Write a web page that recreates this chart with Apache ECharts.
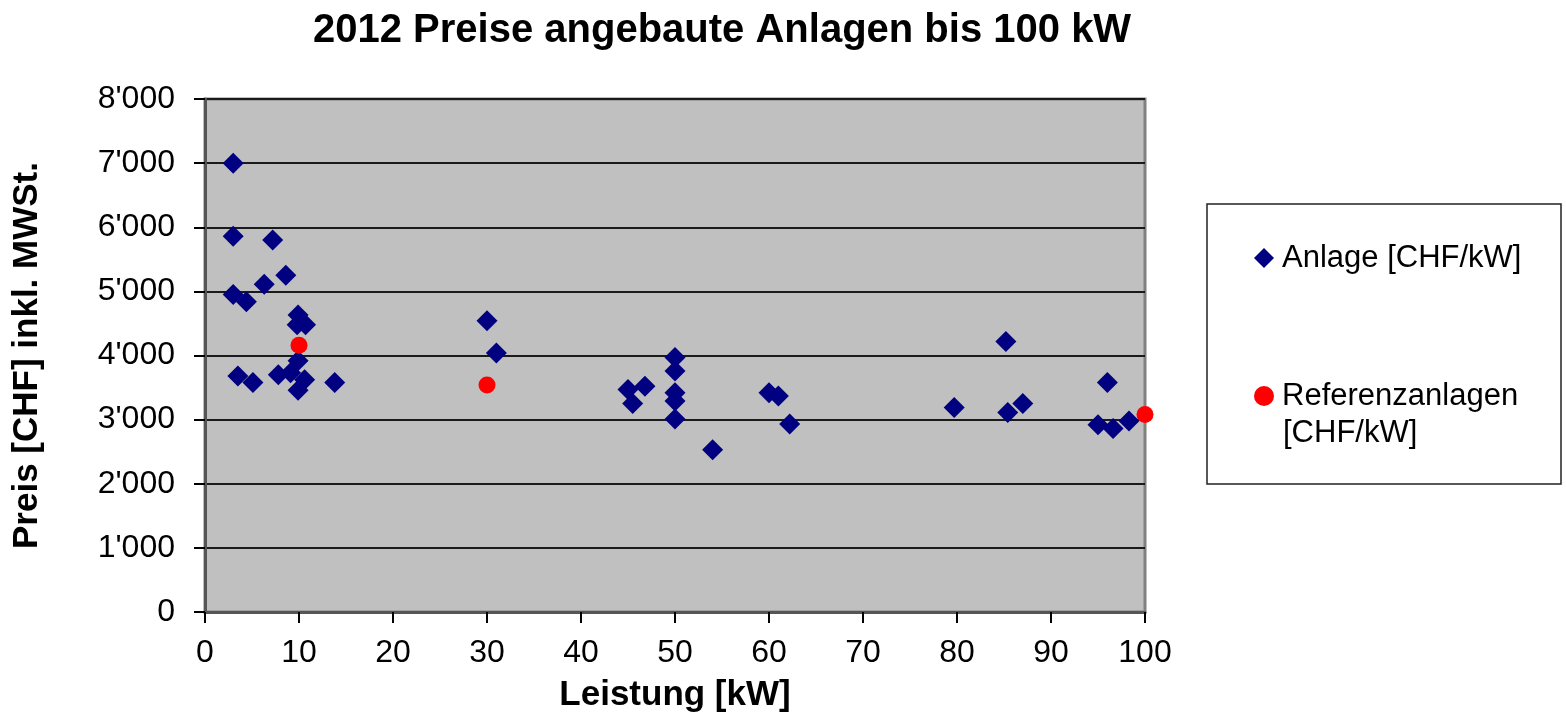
<!DOCTYPE html>
<html lang="de">
<head>
    <meta charset="UTF-8">
    <title>2012 Preise angebaute Anlagen bis 100 kW</title>
    <script src="https://cdn.jsdelivr.net/npm/echarts@6/dist/echarts.min.js"></script>
    <style>
        html, body {margin:0; padding:0; background:#ffffff;}
        #chart {width:1566px; height:718px;}
    </style>
</head>
<body>
<div id="chart"></div>
<script>
    // Daten: Leistung [kW] und Preis [CHF/kW]
    let anlageKw = [3, 3, 7.2, 8.6, 6.3, 3, 4.4, 9.9, 9.8, 10.7, 9.9, 7.8, 9.1, 10.6, 9.9, 13.8, 3.5, 5.1,
        30, 31, 45, 46.8, 45.5, 50, 50, 50, 50, 50, 54, 60, 61, 62.2, 79.7, 85.2, 85.4, 87, 96, 95, 96.6, 98.3];
    let anlagePreis = [7000, 5860, 5800, 5250, 5110, 4950, 4840, 4630, 4480, 4480, 3920, 3700, 3730, 3620, 3460, 3580, 3680, 3580,
        4540, 4040, 3470, 3520, 3250, 3970, 3760, 3420, 3290, 3010, 2530, 3420, 3370, 2930, 3190, 4220, 3110, 3250, 3580, 2920, 2860, 2980];
    let referenzKw = [10, 30, 100];
    let referenzPreis = [4160, 3540, 3080];

    let fontName = "'Liberation Sans', Arial, sans-serif";

    function pairs(xs, ys) {
        return xs.map(function (x, i) { return [x, ys[i]]; });
    }

    let chart = echarts.init(document.getElementById('chart'));
    let option = {
        animation: false,
        backgroundColor: '#ffffff',
        textStyle: {fontFamily: fontName},
        title: {
            text: '2012 Preise angebaute Anlagen bis 100 kW',
            left: 308,
            top: 6,
            textStyle: {fontSize: 40, fontWeight: 'bold', color: '#000', fontFamily: fontName}
        },
        grid: {
            left: 205, right: 421, top: 99, bottom: 105,
            show: true,
            backgroundColor: '#c0c0c0',
            borderColor: '#808080',
            borderWidth: 3
        },
        legend: [{
            data: ['Anlage [CHF/kW]'],
            orient: 'vertical',
            left: 1254, top: 240, padding: 0,
            itemWidth: 20, itemHeight: 20,
            textStyle: {fontSize: 31, color: '#000', lineHeight: 36, padding: [0, 0, 0, 3], fontFamily: fontName}
        }, {
            data: ['Referenzanlagen [CHF/kW]'],
            orient: 'vertical',
            left: 1254, top: 378, padding: 0,
            itemWidth: 20, itemHeight: 20,
            formatter: function () { return 'Referenzanlagen'; },
            textStyle: {fontSize: 31, color: '#000', lineHeight: 36, padding: [0, 0, 0, 3], fontFamily: fontName}
        }],
        graphic: [{
            type: 'rect',
            shape: {x: 1207, y: 204, width: 354, height: 280},
            style: {fill: 'transparent', stroke: '#222', lineWidth: 1.5},
            z: -1
        }, {
            type: 'text',
            left: 1283, top: 418,
            style: {text: '[CHF/kW]', font: '31px ' + fontName, fill: '#000'}
        }],
        xAxis: {
            type: 'value',
            min: 0, max: 100, interval: 10,
            name: 'Leistung [kW]',
            nameLocation: 'middle',
            nameGap: 66,
            nameTextStyle: {fontSize: 35, fontWeight: 'bold', color: '#000', fontFamily: fontName},
            axisLine: {show: true, lineStyle: {color: '#555', width: 3}},
            axisTick: {show: true, length: 11, lineStyle: {color: '#000', width: 2}},
            axisLabel: {fontSize: 32, color: '#000', margin: 25, fontFamily: fontName},
            splitLine: {show: false}
        },
        yAxis: {
            type: 'value',
            min: 0, max: 8000, interval: 1000,
            name: 'Preis [CHF] inkl. MWSt.',
            nameLocation: 'middle',
            nameGap: 160,
            nameTextStyle: {fontSize: 35, fontWeight: 'bold', color: '#000', fontFamily: fontName},
            axisLine: {show: true, lineStyle: {color: '#555', width: 3}},
            axisTick: {show: true, length: 11, lineStyle: {color: '#000', width: 2}},
            axisLabel: {
                fontSize: 32, color: '#000', margin: 30, fontFamily: fontName,
                formatter: function (v) { return v === 0 ? '0' : (v / 1000) + "'000"; }
            },
            splitLine: {show: true, lineStyle: {color: '#1a1a1a', width: 2}}
        },
        series: [{
            name: 'Anlage [CHF/kW]',
            type: 'scatter',
            symbol: 'diamond',
            symbolSize: 21,
            itemStyle: {color: '#000080', opacity: 1},
            data: pairs(anlageKw, anlagePreis),
            z: 2
        }, {
            name: 'Referenzanlagen [CHF/kW]',
            type: 'scatter',
            symbol: 'circle',
            symbolSize: 17,
            itemStyle: {color: '#ff0000', opacity: 1},
            data: pairs(referenzKw, referenzPreis),
            z: 3
        }]
    };
    chart.setOption(option);
</script>
</body>
</html>
